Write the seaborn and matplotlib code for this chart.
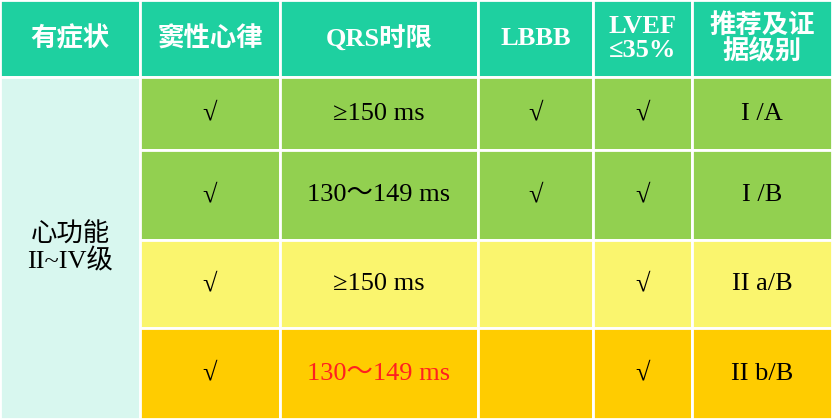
import matplotlib
matplotlib.use("Agg")
import matplotlib.pyplot as plt
import seaborn as sns
from matplotlib.patches import Rectangle

sns.set_theme(style="white")
plt.rcParams['font.family'] = ['Liberation Serif', 'Noto Sans CJK SC', 'DejaVu Sans']

# table content
headers = ["有症状", "窦性心律", "QRS时限", "LBBB", "LVEF\n≤35%", "推荐及证\n据级别"]
group_label = "心功能\nII~IV级"
sinus = ["√", "√", "√", "√"]
qrs = ["≥150 ms", "130～149 ms", "≥150 ms", "130～149 ms"]
lbbb = ["√", "√", "", ""]
lvef = ["√", "√", "√", "√"]
grade = ["I /A", "I /B", "II a/B", "II b/B"]
row_colors = ["#92D050", "#92D050", "#FAF56E", "#FFCC00"]

col_edges = [0, 140, 280, 478, 593, 692, 832]
row_edges = [0, 77, 150, 240, 328, 419]

fig = plt.figure(figsize=(8.32, 4.19), dpi=100)
ax = fig.add_axes([0, 0, 1, 1])
ax.set_xlim(0, 832)
ax.set_ylim(419, 0)
ax.axis("off")

def cell(c0, c1, r0, r1, color):
    ax.add_patch(Rectangle((col_edges[c0], row_edges[r0]),
                           col_edges[c1] - col_edges[c0], row_edges[r1] - row_edges[r0],
                           facecolor=color, edgecolor="white", linewidth=2))

def put(c0, c1, r0, r1, s, **kw):
    ax.text((col_edges[c0] + col_edges[c1]) / 2, (row_edges[r0] + row_edges[r1]) / 2, s,
            ha="center", va="center", fontsize=kw.pop("fontsize", 19), linespacing=1.05, **kw)

for j, h in enumerate(headers):
    cell(j, j + 1, 0, 1, "#1ED0A0")
    put(j, j + 1, 0, 1, h, color="white", fontweight="bold", fontsize=19)

cell(0, 1, 1, 5, "#D8F7EF")
put(0, 1, 1, 5, group_label, color="black")

for i in range(4):
    r = i + 1
    vals = [sinus[i], qrs[i], lbbb[i], lvef[i], grade[i]]
    for j, v in enumerate(vals):
        cell(j + 1, j + 2, r, r + 1, row_colors[i])
        color = "#FF2020" if (i == 3 and j == 1) else "black"
        put(j + 1, j + 2, r, r + 1, v, color=color)

fig.savefig("out.png", dpi=100)
